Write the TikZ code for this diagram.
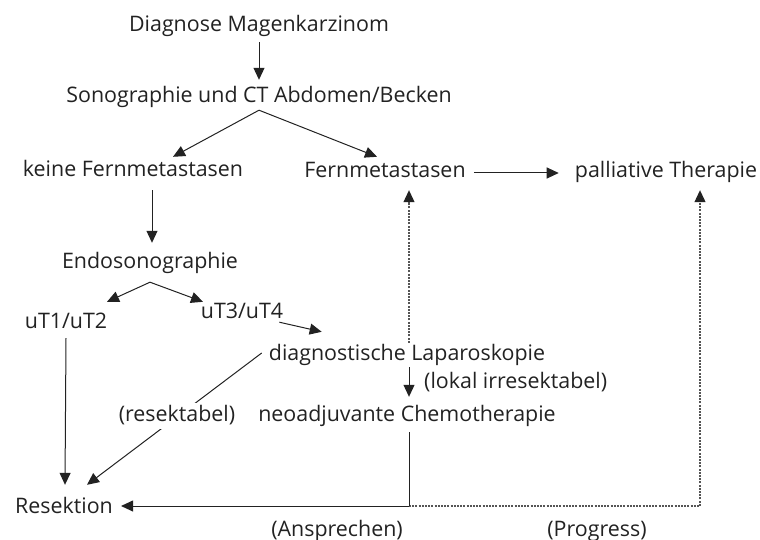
\documentclass[tikz,border=0pt]{standalone}
\usepackage{fontspec}
\setmainfont{Open Sans}
\usetikzlibrary{arrows.meta,calc}
\definecolor{ink}{HTML}{222222}
\definecolor{dashc}{HTML}{555555}
\begin{document}
\begin{tikzpicture}[x=1pt,y=-1pt,
  txt/.style={font=\fontsize{21.4}{24}\selectfont, text=ink, inner xsep=4pt, inner ysep=5pt,
    text height=15pt, text depth=5pt, anchor=base},
  arr/.style={draw=ink, line width=1pt, -{Triangle[length=12pt,width=11pt]}},
  plain/.style={draw=ink, line width=1pt},
  dasharr/.style={draw=dashc, line width=1.1pt, dash pattern=on 2pt off 1.2pt,
    -{Triangle[length=12pt,width=11pt]}, arrows={[color=ink]}}
]
\useasboundingbox (0,0) rectangle (760,540);
\node[txt] (diag) at (259,32) {Diagnose Magenkarzinom};
\node[txt] (sono) at (259,103) {Sonographie und CT Abdomen/Becken};
\node[txt] (keine) at (133,177) {keine Fernmetastasen};
\node[txt] (fern) at (385,178) {Fernmetastasen};
\node[txt] (pall) at (666,178) {palliative Therapie};
\node[txt] (endo) at (150,268) {Endosonographie};
\node[txt] (ut12) at (66,328) {uT1/uT2};
\node[txt] (ut34) at (242,318) {uT3/uT4};
\node[txt] (lap) at (407,360) {diagnostische Laparoskopie};
\node[txt, anchor=base west] (lokal) at (420,388) {(lokal irresektabel)};
\node[txt] (chemo) at (407,421) {neoadjuvante Chemotherapie};
\node[txt] (res) at (64,513) {Resektion};
\node[txt] (ansp) at (337,536) {(Ansprechen)};
\node[txt] (prog) at (597,536) {(Progress)};

\draw[arr] (diag.south) -- ($(sono.north)+(0,-3)$);
\draw[arr] ($(sono.south)+(0,-3)$) -- ($(keine.north)+(40,0)$);
\draw[arr] ($(sono.south)+(0,-3)$) -- ($(fern.north)+(-8,-1)$);
\draw[arr] ($(fern.east)+(4,0)$) -- ($(pall.west)+(-12,0)$);
\draw[arr] ($(keine.south)+(19,3)$) -- ($(endo.north)+(2,-5)$);
\draw[arr] ($(endo.south)+(0,4)$) -- ($(ut12.north)+(41,-6)$);
\draw[arr] ($(endo.south)+(0,4)$) -- ($(ut34.north)+(-39,4)$);
\draw[arr] ($(ut34.south east)+(-8,-6)$) -- ($(lap.north west)+(57,-8)$);
\draw[arr] ($(lap.south)+(2,-3)$) -- ($(chemo.north)+(2,-4)$);
\draw[dasharr] ($(lap.north)+(2,3)$) -- ($(fern.south)+(24,2)$);
\draw[arr] ($(lap.west)+(-3,-2)$) -- ($(res.north)+(23,-8)$);
\draw[arr] (ut12.south) -- ($(res.north)+(1,-8)$);
\coordinate (bend) at ($(chemo.south |- res.east)+(2,-2)$);
\draw[dasharr] (bend) -| ($(pall.south)+(34,2)$);
\draw[plain] ($(chemo.south)+(2,1)$) -- (bend);
\draw[arr] (bend) -- ($(res.east)+(4,-2)$);
\node[txt, fill=white, inner ysep=3pt] (resekt) at (177,421) {(resektabel)};
\end{tikzpicture}
\end{document}
